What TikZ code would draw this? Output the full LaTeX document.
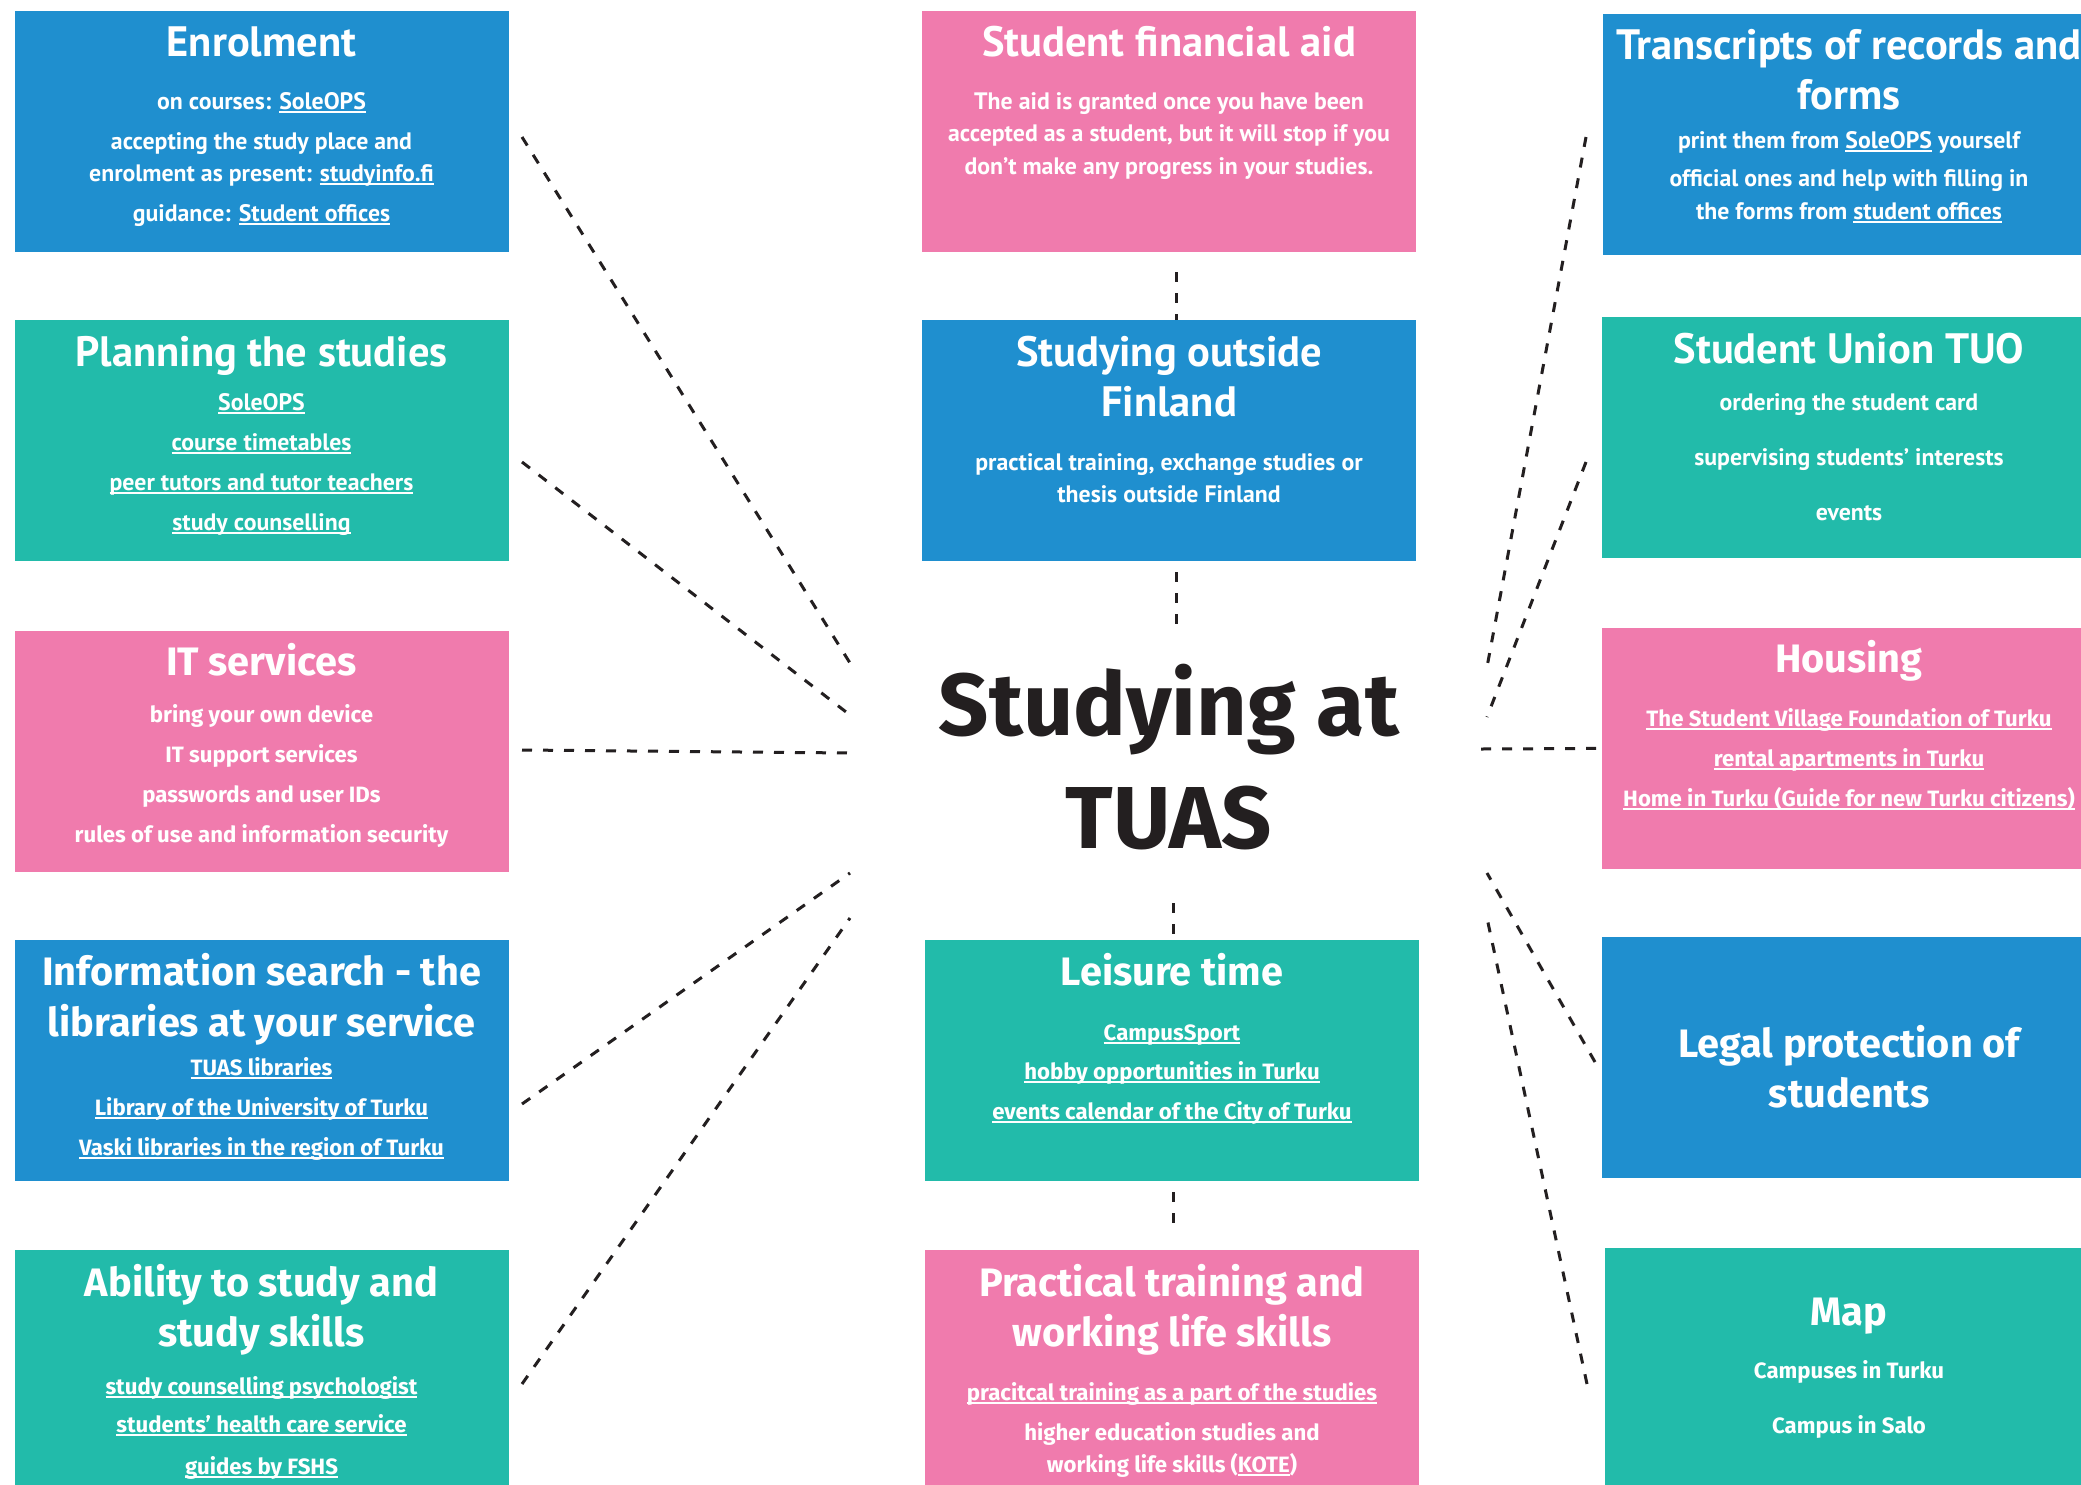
\documentclass[tikz,border=0pt]{standalone}
\usepackage{fontspec}
\setmainfont{PT Sans}
\newfontfamily\firaf{Fira Sans}
\newcommand\lk[1]{\leavevmode\setbox0=\hbox{#1}\rlap{\rule[-3.5pt]{\wd0}{1.6pt}}\box0\relax}
\definecolor{cblue}{RGB}{31,143,207}
\definecolor{cteal}{RGB}{34,187,170}
\definecolor{cpink}{RGB}{240,123,173}
\definecolor{cdark}{RGB}{35,31,32}
\tikzset{
  box/.style={rectangle, minimum width=494pt, minimum height=241pt, anchor=north west, inner sep=0pt, draw=none},
  ttl/.style={text=white, font=\bfseries\fontsize{42.5}{42.5}\selectfont, anchor=base, inner sep=0pt},
  bdy/.style={text=white, font=\bfseries\fontsize{23.8}{23.8}\selectfont, anchor=base, inner sep=0pt},
  fttl/.style={text=white, font=\firaf\bfseries\fontsize{39.7}{39.7}\selectfont, anchor=base, inner sep=0pt},
  fbdy/.style={text=white, font=\firaf\bfseries\fontsize{22.2}{22.2}\selectfont, anchor=base, inner sep=0pt},
  conn/.style={draw=cdark, line width=3pt, dash pattern=on 10pt off 11pt},
}
\begin{document}
\begin{tikzpicture}[x=1pt,y=-1pt]
\clip (0,0) rectangle (2081,1484);
\fill[white] (0,0) rectangle (2081,1484);
% ---- boxes ----
\node[box, fill=cblue] (enr) at (14.6,10.6) {};
\node[box, fill=cteal] (pla) at (14.6,320) {};
\node[box, fill=cpink] (its) at (14.6,630.5) {};
\node[box, fill=cblue] (inf) at (14.6,939.6) {};
\node[box, fill=cteal, minimum height=250pt] (abi) at (14.6,1250) {};
\node[box, fill=cpink] (fin) at (922,10.6) {};
\node[box, fill=cblue] (out) at (922,320) {};
\node[box, fill=cteal] (lei) at (925,939.6) {};
\node[box, fill=cpink, minimum height=250pt] (pra) at (925,1250) {};
\node[box, fill=cblue] (tra) at (1603,13.3) {};
\node[box, fill=cteal] (uni) at (1602,317) {};
\node[box, fill=cpink] (hou) at (1602,627.7) {};
\node[box, fill=cblue] (leg) at (1602,937) {};
\node[box, fill=cteal, minimum height=250pt] (map) at (1605,1247.5) {};
% ---- left column texts ----
\node[ttl] (enrT) at (261.5,56.5) {Enrolment};
\node[bdy] (enr1) at (261.5,109) {on courses: \lk{SoleOPS}};
\node[bdy] (enr2) at (261.5,149) {accepting the study place and};
\node[bdy] (enr3) at (261.5,181) {enrolment as present: \lk{studyinfo.fi}};
\node[bdy] (enr4) at (261.5,221) {guidance: \lk{Student offices}};
\node[ttl] (plaT) at (261.5,366) {Planning the studies};
\node[bdy] (pla1) at (261.5,410.5) {\lk{SoleOPS}};
\node[bdy] (pla2) at (261.5,450) {\lk{course timetables}};
\node[bdy] (pla3) at (261.5,490) {\lk{peer tutors and tutor teachers}};
\node[bdy] (pla4) at (261.5,530) {\lk{study counselling}};
\node[fttl] (itsT) at (261.5,675) {IT services};
\node[fbdy] (its1) at (261.5,722) {bring your own device};
\node[fbdy] (its2) at (261.5,762) {IT support services};
\node[fbdy] (its3) at (261.5,802) {passwords and user IDs};
\node[fbdy] (its4) at (261.5,842) {rules of use and information security};
\node[fttl] (infT) at (261.5,985.5) {Information search - the};
\node[fttl] (infU) at (261.5,1036) {libraries at your service};
\node[fbdy] (inf1) at (261.5,1075) {\lk{TUAS libraries}};
\node[fbdy] (inf2) at (261.5,1115) {\lk{Library of the University of Turku}};
\node[fbdy] (inf3) at (261.5,1155) {\lk{Vaski libraries in the region of Turku}};
\node[fttl] (abiT) at (261.5,1296) {Ability to study and};
\node[fttl] (abiU) at (261.5,1346.5) {study skills};
\node[fbdy] (abi1) at (261.5,1394) {\lk{study counselling psychologist}};
\node[fbdy] (abi2) at (261.5,1432) {\lk{students’ health care service}};
\node[fbdy] (abi3) at (261.5,1474) {\lk{guides by FSHS}};
% ---- middle column texts ----
\node[ttl] (finT) at (1169,56.5) {Student financial aid};
\node[bdy] (fin1) at (1169,109) {The aid is granted once you have been};
\node[bdy] (fin2) at (1169,141) {accepted as a student, but it will stop if you};
\node[bdy] (fin3) at (1169,174) {don’t make any progress in your studies.};
\node[ttl] (outT) at (1169,366) {Studying outside};
\node[ttl] (outU) at (1169,416) {Finland};
\node[bdy] (out1) at (1169,470) {practical training, exchange studies or};
\node[bdy] (out2) at (1169,502) {thesis outside Finland};
\node[text=cdark, font=\firaf\bfseries\fontsize{88}{88}\selectfont, anchor=base, inner sep=0pt] (cen) at (1169,735) {Studying at};
\node[text=cdark, font=\firaf\bfseries\fontsize{88}{88}\selectfont, anchor=base, inner sep=0pt] (cenU) at (1169,848) {TUAS};
\node[fttl] (leiT) at (1172,985.5) {Leisure time};
\node[fbdy] (lei1) at (1172,1040) {\lk{CampusSport}};
\node[fbdy] (lei2) at (1172,1079) {\lk{hobby opportunities in Turku}};
\node[fbdy] (lei3) at (1172,1119) {\lk{events calendar of the City of Turku}};
\node[fttl] (praT) at (1172,1296) {Practical training and};
\node[fttl] (praU) at (1172,1346.5) {working life skills};
\node[fbdy] (pra1) at (1172,1400.5) {\lk{pracitcal training as a part of the studies}};
\node[fbdy] (pra2) at (1172,1440) {higher education studies and};
\node[fbdy] (pra3) at (1172,1472) {working life skills (\lk{KOTE})};
% ---- right column texts ----
\node[ttl] (traT) at (1849,59) {Transcripts of records and};
\node[ttl] (traU) at (1849,109.5) {forms};
\node[bdy] (tra1) at (1849,148) {print them from \lk{SoleOPS} yourself};
\node[bdy] (tra2) at (1849,186) {official ones and help with filling in};
\node[bdy] (tra3) at (1849,219.5) {the forms from \lk{student offices}};
\node[ttl] (uniT) at (1849,363) {Student Union TUO};
\node[bdy] (uni1) at (1849,410.5) {ordering the student card};
\node[bdy] (uni2) at (1849,465) {supervising students’ interests};
\node[bdy] (uni3) at (1849,520.5) {events};
\node[fttl] (houT) at (1849,672) {Housing};
\node[fbdy] (hou1) at (1849,726) {\lk{The Student Village Foundation of Turku}};
\node[fbdy] (hou2) at (1849,766) {\lk{rental apartments in Turku}};
\node[fbdy] (hou3) at (1849,806) {\lk{Home in Turku (Guide for new Turku citizens)}};
\node[fttl] (legT) at (1849,1057) {Legal protection of};
\node[fttl] (legU) at (1849,1107.5) {students};
\node[fttl] (mapT) at (1849,1325) {Map};
\node[fbdy] (map1) at (1849,1378) {Campuses in Turku};
\node[fbdy] (map2) at (1849,1433.5) {Campus in Salo};
% ---- connector end points ----
\coordinate (a1) at (522,137);   \coordinate (b1) at (850,663);
\coordinate (a2) at (522,462);   \coordinate (b2) at (850,715);
\coordinate (a3) at (522,750);   \coordinate (b3) at (851,753);
\coordinate (a4) at (522,1104);  \coordinate (b4) at (850,873);
\coordinate (a5) at (522,1384);  \coordinate (b5) at (850,918);
\coordinate (a6) at (1586,137);  \coordinate (b6) at (1487,667);
\coordinate (a7) at (1586,462);  \coordinate (b7) at (1487,717);
\coordinate (b8) at (1481,749);
\coordinate (a9) at (1595,1062); \coordinate (b9) at (1487,873);
\coordinate (a10) at (1587,1384); \coordinate (b10) at (1487,918);
\coordinate (m1) at (1176,272);
\coordinate (m2) at (1176,572);  \coordinate (m3) at (1176,625);
\coordinate (m4) at (1173,903);
\coordinate (m5) at (1173,1192); \coordinate (m6) at (1173,1223);
% ---- connectors ----
\draw[conn] (a1) -- (b1);
\draw[conn] (a2) -- (b2);
\draw[conn] (a3) -- (b3);
\draw[conn] (a4) -- (b4);
\draw[conn] (a5) -- (b5);
\draw[conn] (a6) -- (b6);
\draw[conn] (a7) -- (b7);
\draw[conn] (b8) -- (hou.west);
\draw[conn] (a9) -- (b9);
\draw[conn] (a10) -- (b10);
\draw[conn] (m1) -- (m1 |- out.north);
\draw[conn] (m2) -- (m3);
\draw[conn] (m4) -- (m4 |- lei.north);
\draw[conn] (m5) -- (m6);
\end{tikzpicture}
\end{document}
